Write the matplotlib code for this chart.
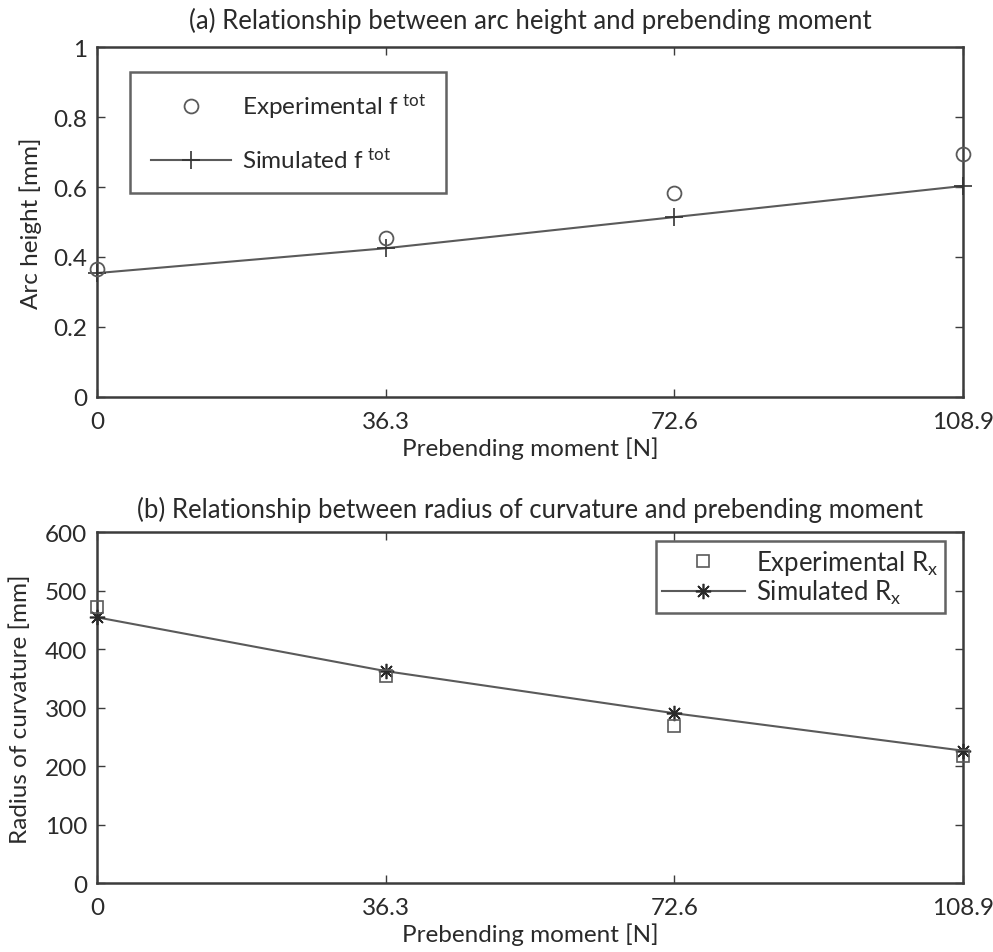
import matplotlib
matplotlib.use("Agg")
import matplotlib.pyplot as plt

plt.rcParams['font.family'] = ['Lato', 'DejaVu Sans']
plt.rcParams['mathtext.default'] = 'regular'
plt.rcParams['mathtext.fontset'] = 'custom'
plt.rcParams['mathtext.rm'] = 'Lato'

# Prebending moment levels [N]
moment = [0, 36.3, 72.6, 108.9]
moment_ticks = ['0', '36.3', '72.6', '108.9']

# (a) arc height [mm]
arc_exp = [0.366, 0.454, 0.583, 0.694]
arc_sim = [0.354, 0.425, 0.514, 0.603]

# (b) radius of curvature [mm]
rad_exp = [472, 355, 270, 218]
rad_sim = [455, 363, 291, 227]

ink = '#3c3c3c'
line_c = '#5a5a5a'
txt = '#2a2a2a'
fs = 17.5
fs_title = 18.5
fs_leg = 17.5

fig = plt.figure(figsize=(9.93, 9.53), dpi=100)
ax1 = fig.add_axes([0.0977, 0.5824, 0.8721, 0.3672])
ax2 = fig.add_axes([0.0977, 0.0719, 0.8721, 0.3683])


def style(ax):
    for s in ax.spines.values():
        s.set_color(ink)
        s.set_linewidth(1.8)
    ax.tick_params(direction='in', top=True, right=True, length=6,
                   width=1.0, colors=ink, labelsize=fs, labelcolor=txt)
    ax.tick_params(axis='x', pad=10)
    ax.tick_params(axis='y', pad=7)
    ax.set_xlim(moment[0], moment[-1])
    ax.set_xticks(moment)
    ax.set_xticklabels(moment_ticks)
    ax.set_xlabel('Prebending moment [N]', fontsize=fs, color=txt, labelpad=3)


def style_legend(leg):
    leg.get_frame().set_edgecolor(ink)
    leg.get_frame().set_linewidth(1.8)
    for t in leg.get_texts():
        t.set_color(txt)


# (a)
ax1.plot(moment, arc_exp, linestyle='none', marker='o', markersize=10,
         markerfacecolor='none', markeredgecolor=line_c, markeredgewidth=1.3,
         label='Experimental f$^{\\ tot}$', clip_on=False, zorder=4)
ax1.plot(moment, arc_sim, color=line_c, linewidth=1.5, marker='+',
         markersize=13, markeredgewidth=1.2, markeredgecolor='#333333',
         label='Simulated f$^{\\ tot}$', clip_on=False, zorder=3)
ax1.set_ylim(0, 1)
ax1.set_yticks([0, 0.2, 0.4, 0.6, 0.8, 1])
ax1.set_yticklabels(['0', '0.2', '0.4', '0.6', '0.8', '1'])
ax1.set_ylabel('Arc height [mm]', fontsize=fs, color=txt)
ax1.set_title('(a) Relationship between arc height and prebending moment',
              fontsize=fs_title, color=txt, pad=14)
style(ax1)
ax1.yaxis.set_label_coords(-0.064, 0.5)
leg1 = ax1.legend(loc='upper left', bbox_to_anchor=(0.038, 0.93), fontsize=fs_leg,
                  frameon=True, fancybox=False, handlelength=3.3,
                  handletextpad=0.45, borderpad=0.85, labelspacing=1.05,
                  borderaxespad=0)
style_legend(leg1)

# (b)
ax2.plot(moment, rad_exp, linestyle='none', marker='s', markersize=8,
         markerfacecolor='none', markeredgecolor=line_c, markeredgewidth=1.2,
         label='Experimental R$_{x}$', clip_on=False, zorder=4)
ax2.plot(moment, rad_sim, color=line_c, linewidth=1.5, marker=(8, 2, 0),
         markersize=11, markeredgewidth=1.2, markeredgecolor='#2a2a2a',
         label='Simulated R$_{x}$', clip_on=False, zorder=3)
ax2.set_ylim(0, 600)
ax2.set_yticks(range(0, 601, 100))
ax2.set_ylabel('Radius of curvature [mm]', fontsize=fs, color=txt)
ax2.set_title('(b) Relationship between radius of curvature and prebending moment',
              fontsize=fs_title, color=txt, pad=11)
style(ax2)
ax2.yaxis.set_label_coords(-0.076, 0.5)
leg2 = ax2.legend(loc='upper right', bbox_to_anchor=(0.979, 0.975), fontsize=18.5,
                  frameon=True, fancybox=False, handlelength=3.2,
                  handletextpad=0.45, borderpad=0.25, labelspacing=0.05,
                  borderaxespad=0)
style_legend(leg2)

fig.savefig('out.png', dpi=100, facecolor='white')
